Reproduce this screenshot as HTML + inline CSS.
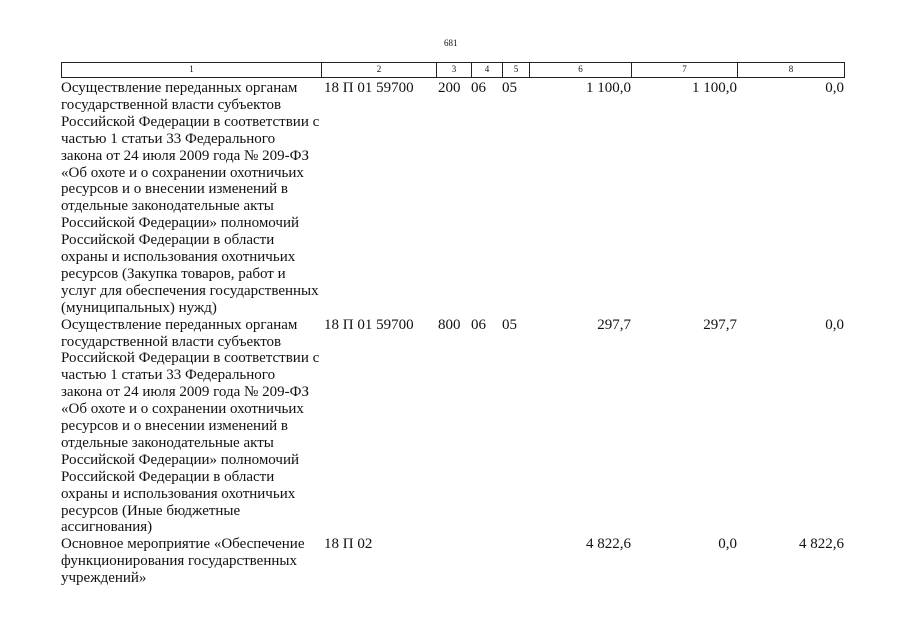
<!DOCTYPE html>
<html><head><meta charset="utf-8"><style>
body{margin:0;width:905px;height:639px;background:#fff;position:relative;font-family:"Liberation Serif",serif;color:#111;overflow:hidden}
.a{position:absolute;white-space:nowrap}
.t{font-size:15px;line-height:16.9px}
.h{position:absolute;top:62px;height:16px;border:1.5px solid #222;border-right:none;box-sizing:border-box;font-size:9px;text-align:center;line-height:13px}
.r{text-align:right}
</style></head><body>
<div class="a" style="left:444px;top:38px;font-size:9px">681</div>
<div class="h" style="left:61px;width:260px">1</div>
<div class="h" style="left:321px;width:115px">2</div>
<div class="h" style="left:436px;width:35px">3</div>
<div class="h" style="left:471px;width:31px">4</div>
<div class="h" style="left:502px;width:27px">5</div>
<div class="h" style="left:529px;width:102px">6</div>
<div class="h" style="left:631px;width:106px">7</div>
<div class="h" style="left:737px;width:108px;border-right:1.5px solid #222">8</div>

<div class="a t" style="left:61px;top:80px">Осуществление переданных органам<br>государственной власти субъектов<br>Российской Федерации в соответствии с<br>частью 1 статьи 33 Федерального<br>закона от 24 июля 2009 года № 209-ФЗ<br>«Об охоте и о сохранении охотничьих<br>ресурсов и о внесении изменений в<br>отдельные законодательные акты<br>Российской Федерации» полномочий<br>Российской Федерации в области<br>охраны и использования охотничьих<br>ресурсов (Закупка товаров, работ и<br>услуг для обеспечения государственных<br>(муниципальных) нужд)</div>
<div class="a t" style="left:324px;top:80px">18 П 01 59700</div>
<div class="a t" style="left:438px;top:80px">200</div>
<div class="a t" style="left:471px;top:80px">06</div>
<div class="a t" style="left:502px;top:80px">05</div>
<div class="a t r" style="right:274px;top:80px">1 100,0</div>
<div class="a t r" style="right:168px;top:80px">1 100,0</div>
<div class="a t r" style="right:61px;top:80px">0,0</div>

<div class="a t" style="left:61px;top:316.6px">Осуществление переданных органам<br>государственной власти субъектов<br>Российской Федерации в соответствии с<br>частью 1 статьи 33 Федерального<br>закона от 24 июля 2009 года № 209-ФЗ<br>«Об охоте и о сохранении охотничьих<br>ресурсов и о внесении изменений в<br>отдельные законодательные акты<br>Российской Федерации» полномочий<br>Российской Федерации в области<br>охраны и использования охотничьих<br>ресурсов (Иные бюджетные<br>ассигнования)</div>
<div class="a t" style="left:324px;top:316.6px">18 П 01 59700</div>
<div class="a t" style="left:438px;top:316.6px">800</div>
<div class="a t" style="left:471px;top:316.6px">06</div>
<div class="a t" style="left:502px;top:316.6px">05</div>
<div class="a t r" style="right:274px;top:316.6px">297,7</div>
<div class="a t r" style="right:168px;top:316.6px">297,7</div>
<div class="a t r" style="right:61px;top:316.6px">0,0</div>

<div class="a t" style="left:61px;top:536px">Основное мероприятие «Обеспечение<br>функционирования государственных<br>учреждений»</div>
<div class="a t" style="left:324px;top:536px">18 П 02</div>
<div class="a t r" style="right:274px;top:536px">4 822,6</div>
<div class="a t r" style="right:168px;top:536px">0,0</div>
<div class="a t r" style="right:61px;top:536px">4 822,6</div>
</body></html>
